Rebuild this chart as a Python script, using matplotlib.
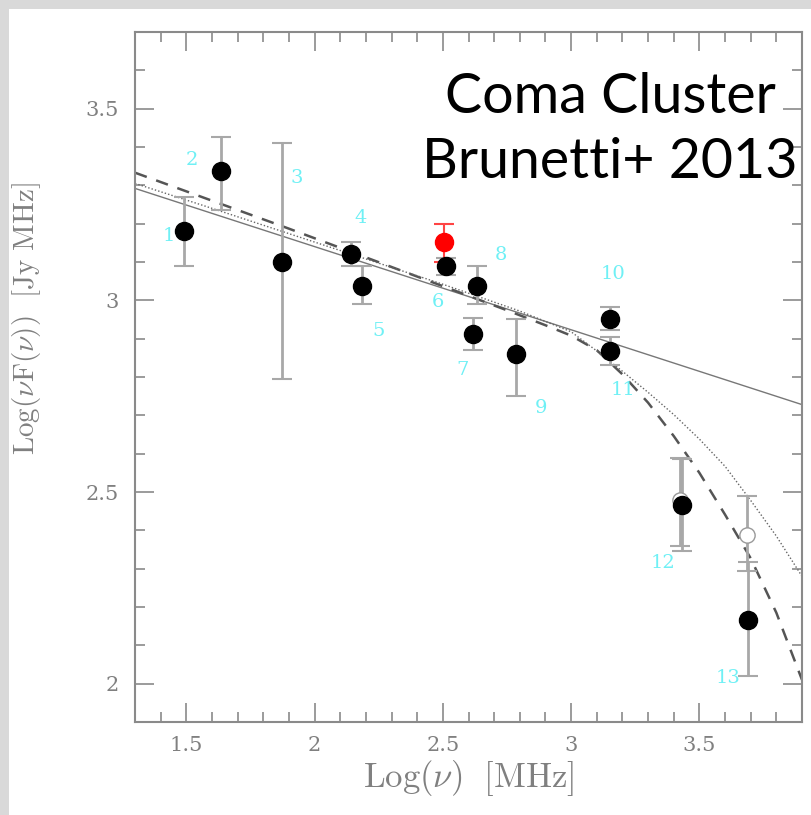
import numpy as np
import matplotlib
matplotlib.use("Agg")
import matplotlib.pyplot as plt
from matplotlib.patches import Rectangle
from matplotlib.ticker import MultipleLocator

plt.rcParams['mathtext.fontset'] = 'cm'
plt.rcParams['font.family'] = 'DejaVu Serif'

# measured points (filled black)
labels = ['1', '2', '3', '4', '5', '6', '7', '8', '9', '10', '11', '12', '13']
log_nu = [1.49, 1.636, 1.874, 2.143, 2.186, 2.514, 2.616, 2.635, 2.785, 3.15, 3.15, 3.434, 3.69]
log_nuF = [3.18, 3.338, 3.10, 3.12, 3.037, 3.09, 2.911, 3.037, 2.859, 2.952, 2.867, 2.467, 2.166]
err_lo = [3.09, 3.235, 2.796, 3.09, 2.99, 3.065, 2.87, 2.99, 2.75, 2.922, 2.83, 2.345, 2.021]
err_hi = [3.27, 3.426, 3.41, 3.152, 3.09, 3.11, 2.955, 3.089, 2.952, 2.983, 2.904, 2.587, 2.317]

# label positions
lab_x = [1.43, 1.523, 1.93, 2.18, 2.25, 2.48, 2.578, 2.727, 2.883, 3.163, 3.203, 3.36, 3.613]
lab_y = [3.167, 3.366, 3.318, 3.214, 2.92, 2.995, 2.817, 3.117, 2.718, 3.07, 2.765, 2.316, 2.016]

# red point
red_x = [2.505]
red_y = [3.151]
red_lo = [3.10]
red_hi = [3.20]

# open circles
open_x = [3.425, 3.687]
open_y = [2.48, 2.388]
open_lo = [2.36, 2.295]
open_hi = [2.59, 2.49]

# model curves
solid_x = [1.3, 3.9]
solid_y = [3.292, 2.728]
dash_x = [1.3, 1.6, 1.9, 2.2, 2.5, 2.75, 2.9, 3.0, 3.1, 3.2, 3.3, 3.4, 3.5, 3.6, 3.7, 3.8, 3.9]
dash_y = [3.333, 3.260, 3.187, 3.112, 3.037, 2.974, 2.935, 2.908, 2.870, 2.807, 2.733, 2.646, 2.55, 2.441, 2.327, 2.185, 2.01]
dot_x = [1.3, 1.6, 1.9, 2.2, 2.5, 2.8, 3.0, 3.1, 3.2, 3.3, 3.4, 3.5, 3.6, 3.7, 3.8, 3.9]
dot_y = [3.305, 3.240, 3.174, 3.108, 3.042, 2.972, 2.918, 2.868, 2.815, 2.760, 2.702, 2.638, 2.567, 2.478, 2.385, 2.28]

fig = plt.figure(figsize=(8.11, 8.15), dpi=100)
fig.patch.set_facecolor('#d9d9d9')
fig.patches.append(Rectangle((9 / 811, 0), 1, 1 - 9 / 815, transform=fig.transFigure,
                             facecolor='white', edgecolor='none', zorder=-5))

ax = fig.add_axes([135 / 811, 93 / 815, 667 / 811, 690 / 815])
ax.set_facecolor('white')

gray = '#8a8a8a'
ax.plot(solid_x, solid_y, color='#777777', lw=1.0)
ax.plot(dash_x, dash_y, color='#555555', lw=1.8, ls=(0, (5, 4)))
ax.plot(dot_x, dot_y, color='#666666', lw=1.0, ls=(0, (1, 1.5)))

yerr = [np.array(log_nuF) - np.array(err_lo), np.array(err_hi) - np.array(log_nuF)]
ax.errorbar(log_nu, log_nuF, yerr=yerr, fmt='none', ecolor='#a8a8a8', elinewidth=2, capsize=7, capthick=1.5)
oerr = [np.array(open_y) - np.array(open_lo), np.array(open_hi) - np.array(open_y)]
ax.errorbar(open_x, open_y, yerr=oerr, fmt='o', mfc='white', mec='#999999', ms=11,
            ecolor='#a8a8a8', elinewidth=2, capsize=7, capthick=1.5)
ax.plot(log_nu, log_nuF, 'o', color='black', ms=13, zorder=5)

rerr = [np.array(red_y) - np.array(red_lo), np.array(red_hi) - np.array(red_y)]
ax.errorbar(red_x, red_y, yerr=rerr, fmt='o', color='red', ms=13, ecolor='#ff4444',
            elinewidth=1.5, capsize=7, capthick=1.5, zorder=4)

for t, lx, ly in zip(labels, lab_x, lab_y):
    ax.text(lx, ly, t, color='#6ff0f5', fontsize=14, ha='center', va='center')

ax.set_xlim(1.3, 3.9)
ax.set_ylim(1.9, 3.7)
ax.xaxis.set_major_locator(MultipleLocator(0.5))
ax.xaxis.set_minor_locator(MultipleLocator(0.1))
ax.yaxis.set_major_locator(MultipleLocator(0.5))
ax.yaxis.set_minor_locator(MultipleLocator(0.1))
ax.xaxis.set_major_formatter(plt.FuncFormatter(lambda v, p: f'{v:g}'))
ax.yaxis.set_major_formatter(plt.FuncFormatter(lambda v, p: f'{v:g}'))
ax.tick_params(which='both', direction='in', top=True, right=True, color=gray,
               labelcolor='#808080', labelsize=15)
ax.tick_params(which='major', length=14, width=1.2, pad=10)
ax.tick_params(which='minor', length=7, width=1.2)
ax.tick_params(axis='y', which='major', pad=12)
for s in ax.spines.values():
    s.set_color(gray)
    s.set_linewidth(1.5)

ax.set_xlabel(r'$\mathrm{Log}(\nu)\ \ [\mathrm{MHz}]$', fontsize=25, color='#808080', labelpad=2)
ax.set_ylabel(r'$\mathrm{Log}(\nu\mathrm{F}(\nu))\ \ [\mathrm{Jy\ MHz}]$', fontsize=21, color='#808080', labelpad=14)
ax.yaxis.set_label_coords(-0.138, 0.584)

fig.text(610 / 811, 1 - 178 / 815, 'Coma Cluster\nBrunetti+ 2013', fontsize=40,
         family='Lato', ha='center', va='baseline', linespacing=1.33, color='black')

fig.savefig('out.png', dpi=100, facecolor=fig.get_facecolor())
